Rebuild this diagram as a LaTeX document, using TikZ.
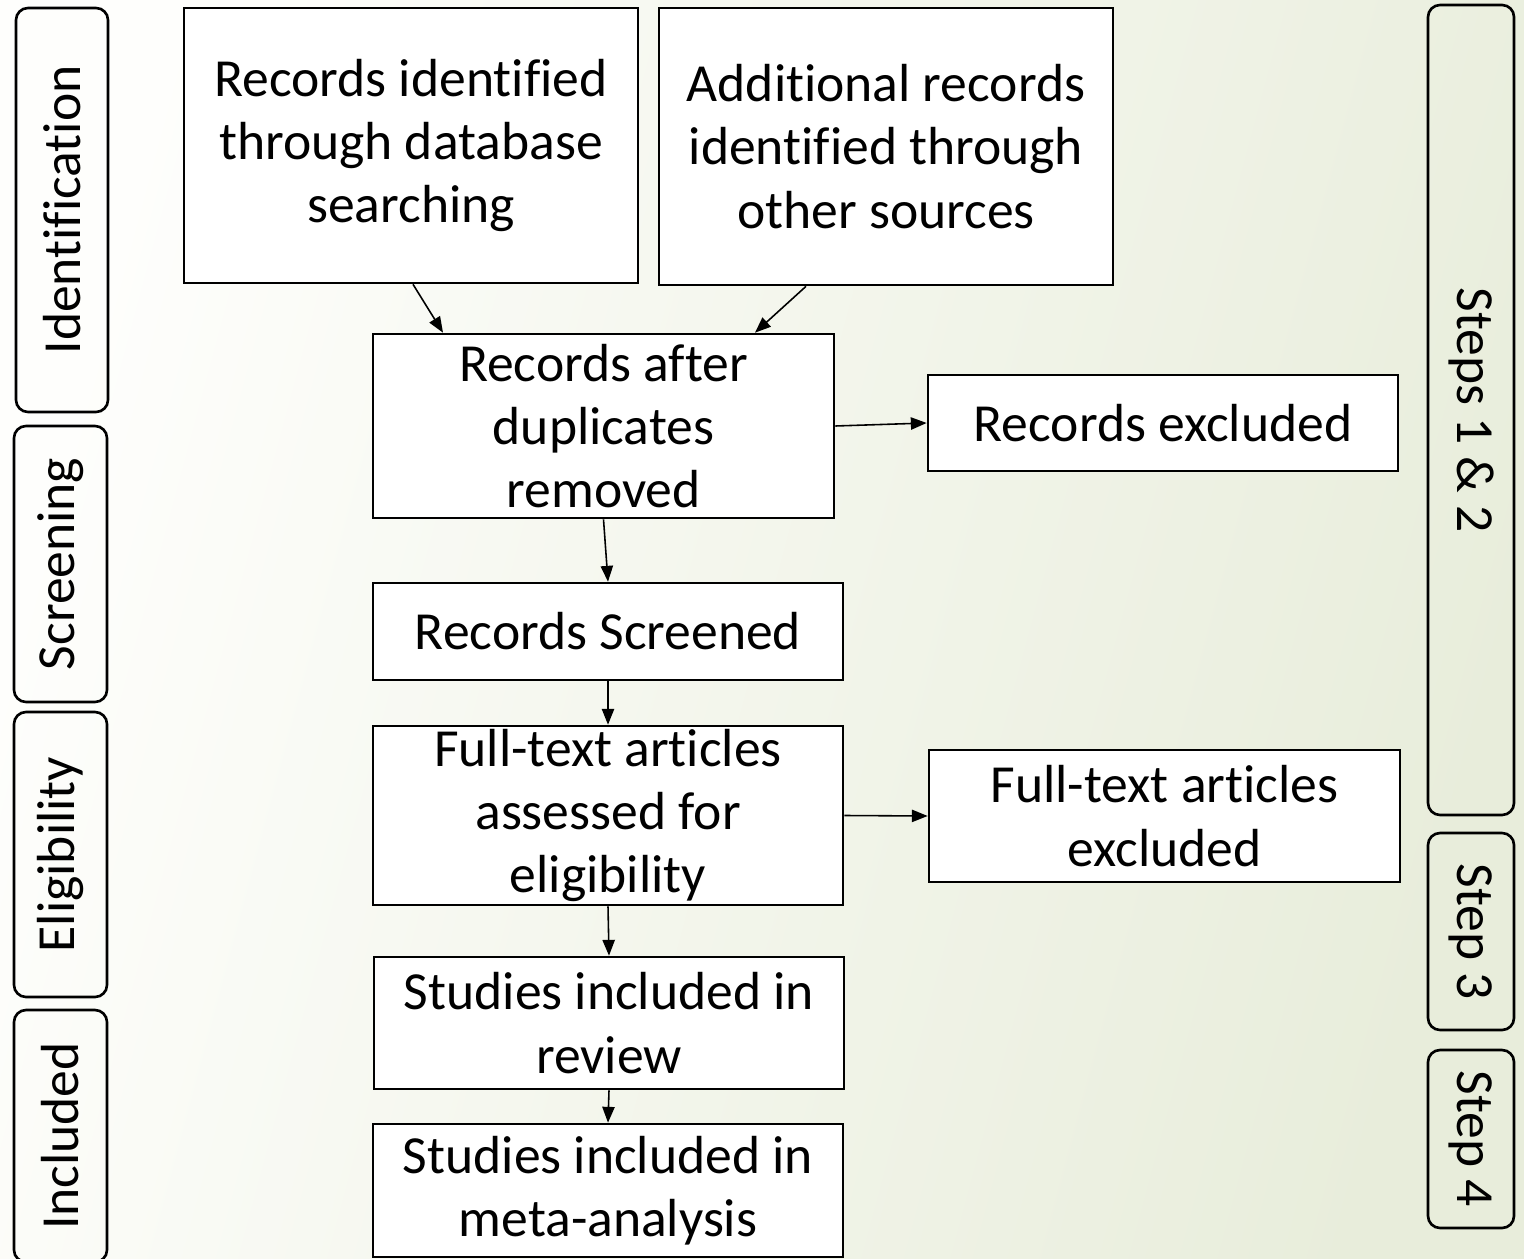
\documentclass[tikz,border=0pt]{standalone}
\usepackage{fontspec}
\setmainfont{Carlito}[Ligatures=CommonOff]
\usepackage{xcolor}
\usetikzlibrary{arrows.meta,calc,positioning}
\definecolor{bgleft}{RGB}{254,254,252}
\definecolor{bgright}{RGB}{232,237,219}

\begin{document}
\begin{tikzpicture}[thick,
                    box/.style={rectangle,draw,fill=white,line width=1.5pt,inner sep=0pt,
                                align=center,font=\fontsize{30.5}{36}\selectfont},
                    phase/.style={rectangle,rounded corners=0.24cm,draw,line width=1.5pt,inner sep=0pt,
                                  minimum height=1.84cm,font=\fontsize{30.5}{36}\selectfont},
                    link/.style={line width=0.9pt,-{Triangle[length=9pt,width=7pt]}}]

  % background
  \useasboundingbox (0,0) rectangle (30.48,-25.18);
  \clip (0,0) rectangle (30.48,-25.18);
  \shade[left color=bgleft,right color=bgright,shading angle=75] (0,0) rectangle (30.48,-25.18);

  % flow boxes
  \node[box,minimum width=9.08cm,minimum height=5.5cm] (db) at (8.22,-2.91) {Records identified\\through database\\searching};
  \node[box,minimum width=9.08cm,minimum height=5.54cm] (other) at (17.72,-2.93) {Additional records\\identified through\\other sources};
  \node[box,minimum width=9.22cm,minimum height=3.68cm] (dup) at (12.07,-8.52) {Records after\\duplicates\\removed};
  \node[box,minimum width=9.4cm,minimum height=1.92cm] (excl) at (23.26,-8.46) {Records excluded};
  \node[box,minimum width=9.4cm,minimum height=1.94cm] (screen) at (12.16,-12.63) {Records Screened};
  \node[box,minimum width=9.4cm,minimum height=3.58cm] (full) at (12.16,-16.31) {Full-text articles\\assessed for\\eligibility};
  \node[box,minimum width=9.42cm,minimum height=2.64cm] (fullexcl) at (23.29,-16.32) {Full-text articles\\excluded};
  \node[box,minimum width=9.4cm,minimum height=2.64cm] (review) at (12.18,-20.46) {Studies included in\\review};
  \node[box,minimum width=9.4cm,minimum height=2.66cm] (meta) at (12.16,-23.81) {Studies included in\\meta-analysis};

  % phases (left)
  \node[phase,rotate=90,minimum width=8.08cm] (ident) at (1.24,-4.2) {Identification};
  \node[phase,rotate=90,minimum width=5.52cm,minimum height=1.86cm] (scr) at (1.21,-11.28) {Screening};
  \node[phase,rotate=90,minimum width=5.7cm,minimum height=1.86cm] (elig) at (1.21,-17.09) {Eligibility};
  \node[phase,rotate=90,minimum width=5.04cm,minimum height=1.86cm] (incl) at (1.21,-22.72) {Included};

  % steps (right)
  \node[phase,rotate=-90,minimum width=16.2cm,minimum height=1.72cm] (s12) at (29.42,-8.2) {Steps 1 \& 2};
  \node[phase,rotate=-90,minimum width=3.94cm,minimum height=1.72cm] (s3) at (29.42,-18.63) {Step 3};
  \node[phase,rotate=-90,minimum width=3.56cm,minimum height=1.72cm] (s4) at (29.42,-22.78) {Step 4};

  \draw[link] ([xshift=0.04cm]db.south) -- ([xshift=-3.21cm]dup.north);
  \draw[link] ([xshift=-1.6cm]other.south) -- ([xshift=3.03cm]dup.north);
  \draw[link] (dup.east) -- (excl.west);
  \draw[link] (dup.south) -- (screen.north);
  \draw[link] (screen.south) -- (full.north);
  \draw[link] (full.east) -- (fullexcl.west);
  \draw[link] (full.south) -- (review.north);
  \draw[link] (review.south) -- (meta.north);
\end{tikzpicture}
\end{document}
